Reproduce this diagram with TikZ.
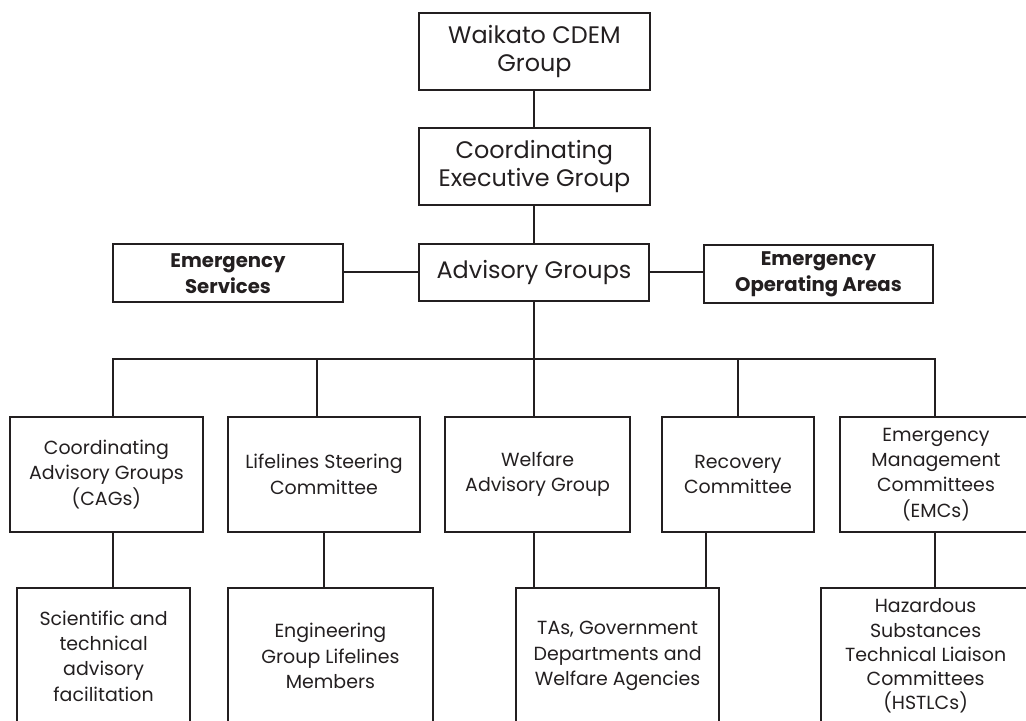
\documentclass[tikz,border=0pt]{standalone}
\usepackage{fontspec}
\setmainfont{Poppins}
\definecolor{ink}{HTML}{231F20}
\begin{document}
\begin{tikzpicture}[x=1cm,y=1cm,
  box/.style={draw=ink, text=ink, rectangle, line width=1.4pt, align=center, inner sep=2pt},
  topbox/.style={box, font=\fontsize{17}{20}\selectfont},
  sidebox/.style={box, font=\fontsize{14}{18.5}\selectfont\bfseries},
  unitbox/.style={box, font=\fontsize{13.5}{18}\selectfont},
  link/.style={draw=ink, line width=1.4pt}]
\useasboundingbox (0,0) rectangle (25.65,-18);
\clip (0,0) rectangle (25.65,-18);

% group and executive
\node[topbox, minimum width=5.78cm, minimum height=1.93cm] (waikato) at (13.36,-1.29) {Waikato CDEM\\Group};
\node[topbox, minimum width=5.78cm, minimum height=1.93cm] (ceg) at (13.36,-4.16) {Coordinating\\Executive Group};
\node[topbox, minimum width=5.75cm, minimum height=1.43cm] (advisory) at (13.35,-6.81) {Advisory Groups};
\node[sidebox, minimum width=5.75cm, minimum height=1.45cm] (services) at (5.70,-6.83) {Emergency\\Services};
\node[sidebox, minimum width=5.73cm, minimum height=1.45cm] (areas) at (20.46,-6.85) {Emergency\\Operating Areas};

% advisory groups
\node[unitbox, minimum width=4.83cm, minimum height=2.875cm] (cags) at (2.66,-11.86) {Coordinating\\Advisory Groups\\(CAGs)};
\node[unitbox, minimum width=4.80cm, minimum height=2.875cm] (lifelines) at (8.10,-11.86) {Lifelines Steering\\Committee};
\node[unitbox, minimum width=4.63cm, minimum height=2.875cm] (welfare) at (13.44,-11.86) {Welfare\\Advisory Group};
\node[unitbox, minimum width=3.80cm, minimum height=2.875cm] (recovery) at (18.45,-11.86) {Recovery\\Committee};
\node[unitbox, minimum width=4.80cm, minimum height=2.875cm] (emc) at (23.40,-11.86) {Emergency\\Management\\Committees\\(EMCs)};

% members
\node[unitbox, minimum width=4.33cm, minimum height=3.4cm] (scientific) at (2.59,-16.4) {Scientific and\\technical\\advisory\\facilitation};
\node[unitbox, minimum width=5.13cm, minimum height=3.4cm] (engineering) at (8.26,-16.4) {Engineering\\Group Lifelines\\Members};
\node[unitbox, minimum width=5.08cm, minimum height=3.4cm] (agencies) at (15.44,-16.4) {TAs, Government\\Departments and\\Welfare Agencies};
\node[unitbox, minimum width=5.23cm, minimum height=3.4cm, font=\fontsize{13.5}{17.2}\selectfont] (hstlc) at (23.14,-16.4) {Hazardous\\Substances\\Technical Liaison\\Committees\\(HSTLCs)};

\coordinate (busL) at (2.825,-8.975);
\coordinate (busR) at (23.375,-8.975);

\draw[link] (waikato) -- (ceg);
\draw[link] (ceg) -- (advisory.north |- ceg.south) -- (advisory.north);
\draw[link] (advisory.west) -- (advisory.west -| services.east);
\draw[link] (advisory.east) -- (advisory.east -| areas.west);
\draw[link] (advisory.south) -- (advisory.south |- welfare.north);
\draw[link] (cags.north -| busL) -- (busL) -- (busR) -- (emc.north -| busR);
\draw[link] ([xshift=-0.175cm]lifelines.north) -- ([xshift=-0.175cm]lifelines.north |- busL);
\draw[link] (recovery.north) -- (recovery.north |- busL);

\draw[link] (cags.south -| busL) -- (scientific.north -| busL);
\draw[link] (lifelines.south) -- (lifelines.south |- engineering.north);
\draw[link] (advisory.south |- welfare.south) -- (advisory.south |- agencies.north);
\draw[link] ([xshift=-0.8cm]recovery.south) -- ([xshift=-0.8cm]recovery.south |- agencies.north);
\draw[link] (emc.south -| busR) -- (hstlc.north -| busR);
\end{tikzpicture}
\end{document}
